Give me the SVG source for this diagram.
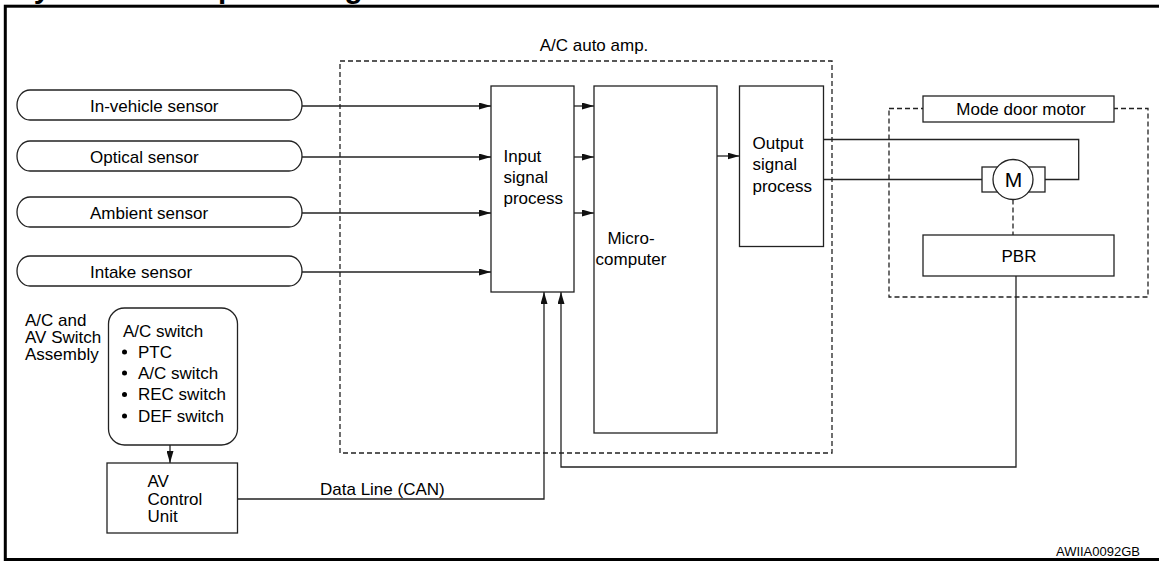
<svg xmlns="http://www.w3.org/2000/svg" width="1159" height="562" viewBox="0 0 1159 562">
<style>
text{font-family:"Liberation Sans",Arial,sans-serif;font-size:17px;fill:#000}
.box{fill:#fff;stroke:#222;stroke-width:1.3}
.dash{fill:none;stroke:#222;stroke-width:1.3;stroke-dasharray:5 3}
.ln{fill:none;stroke:#222;stroke-width:1.3}
.mid{text-anchor:middle}
</style>
<defs>
<marker id="ah" viewBox="0 0 12 7" refX="12" refY="3.5" markerWidth="12" markerHeight="7" markerUnits="userSpaceOnUse" orient="auto">
<path d="M0,0 L12,3.5 L0,7 Z" fill="#111"/>
</marker>
</defs>
<rect x="0" y="0" width="1159" height="562" fill="#fff"/>
<text x="14" y="-2" style="font-size:29.6px;font-weight:bold">System Description Diagram</text>
<rect x="5.3" y="6.2" width="1170" height="553.3" fill="none" stroke="#000" stroke-width="3"/>

<g id="acamp">
<rect class="dash" x="340" y="61" width="492" height="392"/>
<text class="mid" x="594" y="51">A/C auto amp.</text>
</g>

<g id="connectors">
<path class="ln" d="M302,106 H491" marker-end="url(#ah)"/>
<path class="ln" d="M302,157 H491" marker-end="url(#ah)"/>
<path class="ln" d="M302,213 H491" marker-end="url(#ah)"/>
<path class="ln" d="M302,272 H491" marker-end="url(#ah)"/>
<path class="ln" d="M574,106 H594" marker-end="url(#ah)"/>
<path class="ln" d="M574,157 H594" marker-end="url(#ah)"/>
<path class="ln" d="M574,213 H594" marker-end="url(#ah)"/>
<path class="ln" d="M717,156 H739.5" marker-end="url(#ah)"/>
<path class="ln" d="M823,139.5 H1078.7 V179.5 H1045"/>
<path class="ln" d="M823,179.5 H982"/>
<path class="dash" d="M1013,199.5 V235"/>
<path class="ln" d="M1016,276 V467 H561 V292" marker-end="url(#ah)"/>
<path class="ln" d="M237.5,499 H544 V292" marker-end="url(#ah)"/>
<path class="ln" d="M170,445 V463" marker-end="url(#ah)"/>
<text x="320" y="495">Data Line (CAN)</text>
</g>

<g id="invehicle">
<rect class="box" x="17" y="90" width="285" height="30" rx="13" ry="15"/>
<text x="90" y="111.5">In-vehicle sensor</text>
</g>
<g id="optical">
<rect class="box" x="17" y="141" width="285" height="30" rx="13" ry="15"/>
<text x="90" y="162.5">Optical sensor</text>
</g>
<g id="ambient">
<rect class="box" x="17" y="197" width="285" height="30" rx="13" ry="15"/>
<text x="90" y="218.5">Ambient sensor</text>
</g>
<g id="intake">
<rect class="box" x="17" y="256" width="285" height="30" rx="13" ry="15"/>
<text x="90" y="277.5">Intake sensor</text>
</g>

<g id="input">
<rect class="box" x="491" y="86" width="83" height="206"/>
<text x="503.5" y="162">Input</text>
<text x="503.5" y="183">signal</text>
<text x="503.5" y="204">process</text>
</g>

<g id="micro">
<rect class="box" x="594" y="86" width="123" height="347"/>
<text class="mid" x="631" y="244">Micro-</text>
<text class="mid" x="631" y="265">computer</text>
</g>

<g id="output">
<rect class="box" x="739.5" y="86" width="84" height="160.5"/>
<text x="752.5" y="148.5">Output</text>
<text x="752.5" y="170">signal</text>
<text x="752.5" y="191.5">process</text>
</g>

<g id="modedoor">
<rect class="dash" x="889" y="108.5" width="259" height="188.5"/>
<rect class="box" x="923" y="96" width="191" height="26"/>
<text class="mid" x="1021" y="115">Mode door motor</text>
<rect class="box" x="982" y="167" width="63" height="25"/>
<circle class="box" cx="1013" cy="179.5" r="20"/>
<text class="mid" x="1013.5" y="187" style="font-size:21px">M</text>
</g>

<g id="pbr">
<rect class="box" x="923" y="235" width="191" height="41"/>
<text class="mid" x="1019" y="262">PBR</text>
</g>

<g id="switch">
<text x="25" y="326">A/C and</text>
<text x="25" y="343">AV Switch</text>
<text x="25" y="360">Assembly</text>
<rect class="box" x="108.5" y="308" width="129" height="137" rx="16"/>
<text x="123" y="336.5">A/C switch</text>
<circle cx="124.5" cy="352" r="2.5" fill="#000"/>
<text x="138" y="357.5">PTC</text>
<circle cx="124.5" cy="373" r="2.5" fill="#000"/>
<text x="138" y="378.5">A/C switch</text>
<circle cx="124.5" cy="394.5" r="2.5" fill="#000"/>
<text x="138" y="400">REC switch</text>
<circle cx="124.5" cy="416" r="2.5" fill="#000"/>
<text x="138" y="421.5">DEF switch</text>
</g>

<g id="avcu">
<rect class="box" x="107" y="463" width="130.5" height="70"/>
<text x="147.5" y="487">AV</text>
<text x="147.5" y="505">Control</text>
<text x="147.5" y="522">Unit</text>
</g>

<text x="1140" y="556" style="font-size:13px;text-anchor:end">AWIIA0092GB</text>
</svg>
